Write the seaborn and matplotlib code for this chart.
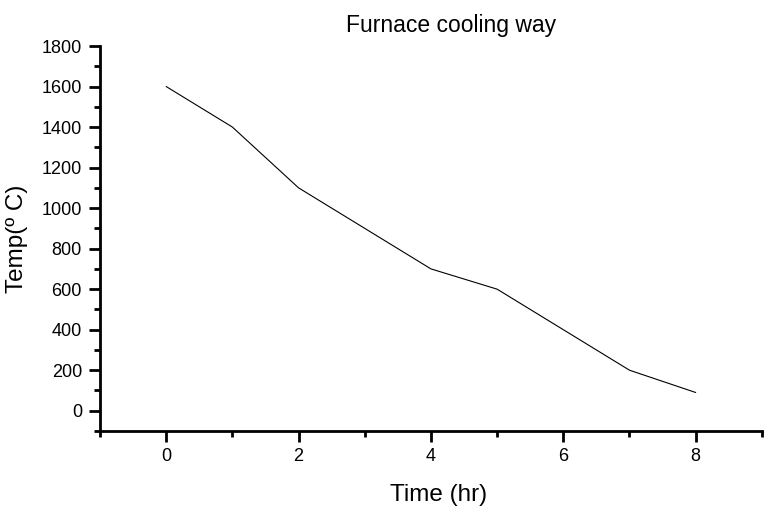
import numpy as np
import pandas as pd
import matplotlib
matplotlib.use('Agg')
import matplotlib.pyplot as plt
import seaborn as sns
from matplotlib.ticker import MultipleLocator

# data
time_hr = [0, 1, 2, 3, 4, 5, 6, 7, 8]
temp_c = [1600, 1400, 1100, 900, 700, 600, 400, 200, 90]

sns.set_style("white")
plt.rcParams['font.family'] = ['Liberation Sans', 'DejaVu Sans']
plt.rcParams['text.color'] = 'black'
plt.rcParams['axes.labelcolor'] = 'black'
plt.rcParams['xtick.color'] = 'black'
plt.rcParams['ytick.color'] = 'black'

df = pd.DataFrame({'time': time_hr, 'temp': temp_c})

fig = plt.figure(figsize=(7.83, 5.14), dpi=100)
ax = fig.add_axes([0.1277, 0.1615, 0.8453, 0.749])
sns.lineplot(data=df, x='time', y='temp', color='black', linewidth=0.8, ax=ax)

ax.set_xlim(-1, 9)
ax.set_ylim(-100, 1800)
ax.xaxis.set_major_locator(MultipleLocator(2))
ax.xaxis.set_minor_locator(MultipleLocator(1))
ax.yaxis.set_major_locator(MultipleLocator(200))
ax.yaxis.set_minor_locator(MultipleLocator(100))

for s in ['top', 'right']:
    ax.spines[s].set_visible(False)
for s in ['left', 'bottom']:
    ax.spines[s].set_linewidth(2)
    ax.spines[s].set_color('black')

ax.tick_params(which='major', direction='out', length=8, width=2, labelsize=13,
               left=True, bottom=True)
ax.tick_params(axis='y', which='major', pad=5)
ax.tick_params(axis='x', which='major', pad=4)
ax.tick_params(which='minor', direction='out', length=4, width=2, left=True, bottom=True)

ax.set_title('Furnace cooling way', fontsize=16.5, pad=10, x=0.53)
ax.set_xlabel('Time (hr)', fontsize=17.5, labelpad=14, x=0.511)
ax.set_ylabel('Temp(º C)', fontsize=17.5, labelpad=10)

fig.savefig('out.png', dpi=100)
